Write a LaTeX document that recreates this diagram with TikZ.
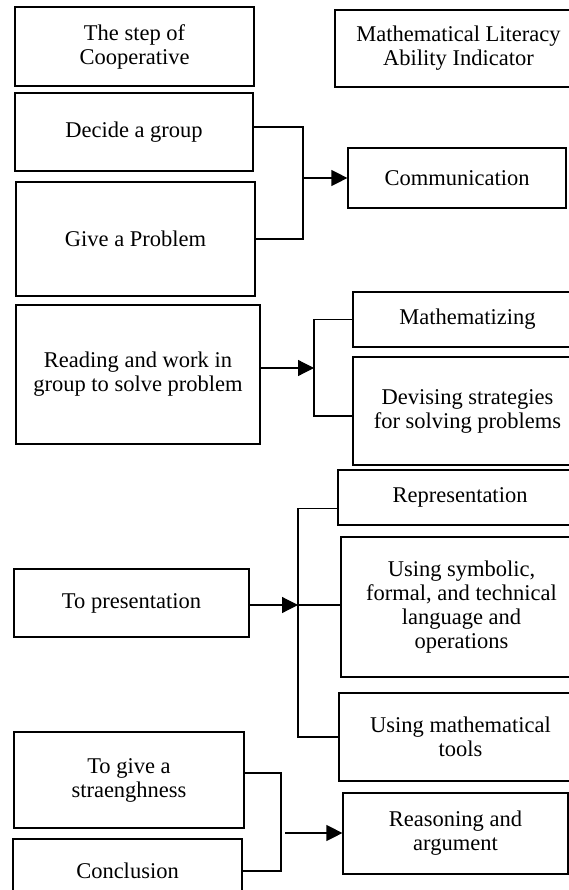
\documentclass[tikz,border=0pt]{standalone}
\usepackage{fontspec}
\setmainfont{Liberation Serif}
\usetikzlibrary{arrows.meta}
\tikzset{
  box/.style={draw, align=center, inner sep=0pt, font=\fontsize{22.5}{24}\selectfont},
  arr/.style={-{Triangle[length=16pt,width=16pt]}},
}
\begin{document}
\begin{tikzpicture}[x=1pt,y=-1pt,line width=1.2pt]
\useasboundingbox (0,0) rectangle (569,890);
\foreach \n/\xa/\ya/\xb/\yb/\txt in {% edit here for the boxes
  step/15/7/254/86/{The step of\\Cooperative},
  mathlit/335/10/582/87/{Mathematical Literacy\\Ability Indicator},
  decide/15/93/253/171/{Decide a group},
  give/16/182/255/296/{Give a Problem},
  comm/348/148/566/208/{Communication},
  reading/16/305/260/444/{Reading and work in\\group to solve problem},
  matz/353/292/582/347/{Mathematizing},
  devise/353/357/582/465/{Devising strategies\\for solving problems},
  repr/338/470/582/525/{Representation},
  symb/341/537/582/677/{Using symbolic,\\formal, and technical\\language and\\operations},
  tools/339/693/582/781/{Using mathematical\\tools},
  pres/14/569/249/637/{To presentation},
  givestr/14/732/244/828/{To give a\\straenghness},
  concl/13/839/242/903/{Conclusion},
  reason/343/793/568/874/{Reasoning and\\argument}}
\node[box, minimum width={(\xb-\xa)*1pt}, minimum height={(\yb-\ya)*1pt}] (\n) at ({(\xa+\xb)/2},{(\ya+\yb)/2}) {\txt};
% bracket 1
\coordinate (j1) at (comm.west -| 303,0);
\draw ([yshift=5pt]decide.east) -| (j1) |- (give.east);
\draw[arr] (j1) -- (comm.west);
% bracket 2
\coordinate (j2) at (314,368);
\draw (matz.west) -| (j2) |- ([yshift=-5pt]devise.west);
\draw[arr] (reading.east |- j2) -- (j2);
% bracket 3
\coordinate (j3) at (298,605);
\draw ([yshift=-11pt]repr.west) -| (j3) |- (tools.west);
\draw (j3) -- (j3 -| symb.west);
\draw[arr] (pres.east |- j3) -- (j3);
% bracket 4
\coordinate (j4) at (281,833);
\draw ([yshift=7pt]givestr.east) -| (j4) |- (concl.east);
\draw[arr, shorten <=4pt] (j4) -- (j4 -| reason.west);
\end{tikzpicture}
\end{document}
